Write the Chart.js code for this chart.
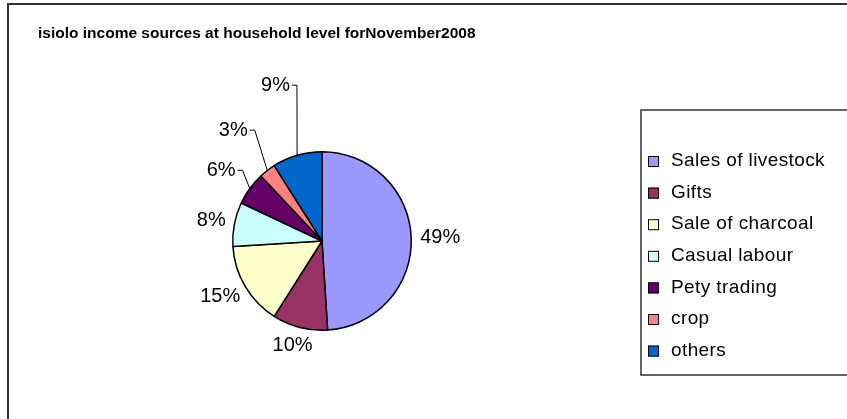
<!DOCTYPE html>
<html>
<head>
<meta charset="utf-8">
<script src="https://cdn.jsdelivr.net/npm/chart.js@4/dist/chart.umd.min.js"></script>
<style>
  html, body { margin: 0; padding: 0; background: #fff; }
  canvas { display: block; }
</style>
</head>
<body>
<canvas id="pie" width="847" height="419"></canvas>
<script>
// data
const titleText = 'isiolo income sources at household level forNovember2008';
const categories = ['Sales of livestock', 'Gifts', 'Sale of charcoal', 'Casual labour', 'Pety trading', 'crop', 'others'];
const shares = [49, 10, 15, 8, 6, 3, 9];
const sliceColors = ['#9999FF', '#993366', '#FFFFCC', '#CCFFFF', '#660066', '#FF8080', '#0066CC'];

// labels that were dragged out and got a leader line (extra radial px)
const labelPull = [0, 0, 0, 0, 12, 32, 54];

const FONT = '"Liberation Sans", Arial, sans-serif';

// outer frame, title, data labels and legend box
const decor = {
  id: 'decor',
  afterDraw(chart) {
    const ctx = chart.ctx;
    ctx.save();

    // frame
    ctx.strokeStyle = '#333';
    ctx.lineWidth = 2;
    ctx.strokeRect(8, 4, 900, 500);

    // title
    ctx.fillStyle = '#000';
    ctx.font = 'bold 15.5px ' + FONT;
    ctx.textAlign = 'left';
    ctx.textBaseline = 'middle';
    ctx.fillText(titleText, 38, 34);

    // data labels
    const meta = chart.getDatasetMeta(0);
    const total = shares.reduce((a, b) => a + b, 0);
    ctx.font = '20px ' + FONT;
    meta.data.forEach((arc, i) => {
      const { x, y, startAngle, endAngle, outerRadius } = arc.getProps(['x', 'y', 'startAngle', 'endAngle', 'outerRadius'], true);
      const mid = (startAngle + endAngle) / 2;
      const dx = Math.cos(mid), dy = Math.sin(mid);
      const txt = Math.round(shares[i] / total * 100) + '%';
      const hw = ctx.measureText(txt).width / 2, hh = 10;
      const d = outerRadius + 9 + labelPull[i];
      const tx = x + dx * d + dx * hw;
      const ty = y + dy * d + dy * hh;
      ctx.fillStyle = '#000';
      ctx.textAlign = 'center';
      ctx.fillText(txt, tx, ty);
      if (labelPull[i] > 0) {
        ctx.strokeStyle = '#000';
        ctx.lineWidth = 1;
        ctx.beginPath();
        ctx.moveTo(tx + hw + 2, ty);
        ctx.lineTo(tx + hw + 7, ty);
        ctx.lineTo(x + dx * outerRadius, y + dy * outerRadius);
        ctx.stroke();
      }
    });

    // legend
    ctx.strokeStyle = '#333';
    ctx.lineWidth = 1.5;
    ctx.fillStyle = '#fff';
    ctx.fillRect(641, 110, 260, 265);
    ctx.strokeRect(641, 110, 260, 265);
    ctx.font = '19px ' + FONT;
    ctx.letterSpacing = '0.4px';
    ctx.textAlign = 'left';
    categories.forEach((name, i) => {
      const ly = 161 + i * 31.6;
      ctx.fillStyle = sliceColors[i];
      ctx.fillRect(648, ly - 5, 11, 11);
      ctx.strokeStyle = '#000';
      ctx.lineWidth = 1;
      ctx.strokeRect(648.5, ly - 4.5, 10, 10);
      ctx.fillStyle = '#000';
      ctx.fillText(name, 671, ly);
    });

    ctx.restore();
  }
};

new Chart(document.getElementById('pie'), {
  type: 'pie',
  data: {
    labels: categories,
    datasets: [{
      data: shares,
      backgroundColor: sliceColors,
      borderColor: '#000',
      borderWidth: 1.5
    }]
  },
  options: {
    responsive: false,
    animation: false,
    devicePixelRatio: 1,
    layout: { padding: { left: 232, right: 435, top: 151, bottom: 88 } },
    plugins: {
      legend: { display: false },
      title: { display: false },
      tooltip: { enabled: false }
    }
  },
  plugins: [decor]
});
</script>
</body>
</html>
